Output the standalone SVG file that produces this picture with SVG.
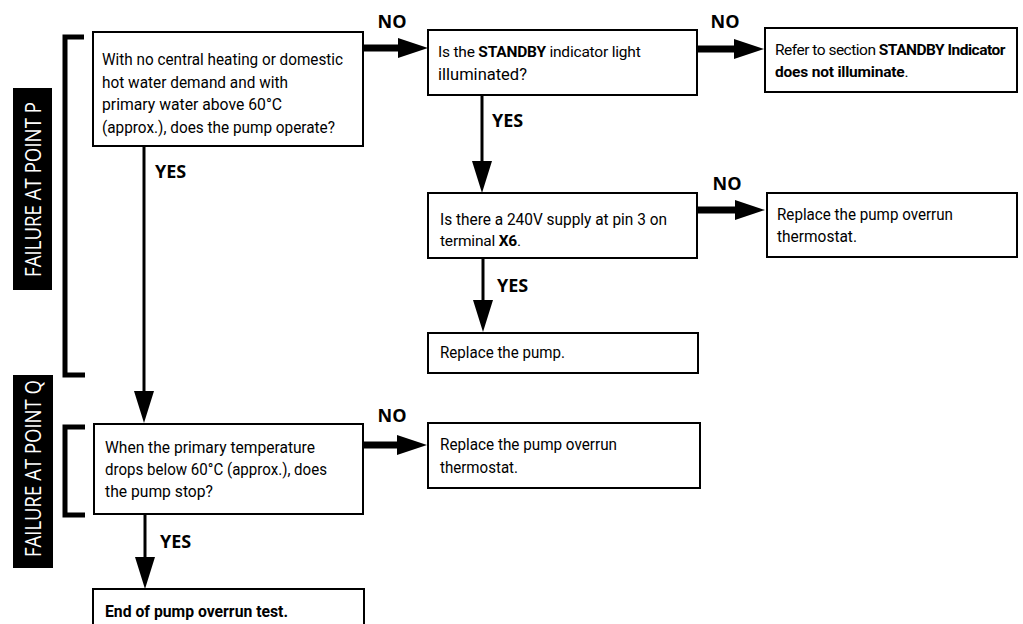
<svg xmlns="http://www.w3.org/2000/svg" width="1023" height="624" viewBox="0 0 1023 624">
<style>
.bg{fill:#fff}
.box{fill:#fff;stroke:#000;stroke-width:2}
.t{font-family:Roboto,"Open Sans",sans-serif;font-size:16.5px;fill:#000}
.m{font-size:15.5px;letter-spacing:-0.2px}
.m2{letter-spacing:-0.5px}
.b{font-weight:bold}
.lbl{font-family:"Open Sans","Noto Sans",sans-serif;font-size:18px;font-weight:bold;fill:#000}
.side{fill:#000}
.sidet{font-family:"Open Sans","Noto Sans",sans-serif;font-size:21px;fill:#fff}
.brk{fill:none;stroke:#000;stroke-width:5}
.h{fill:none;stroke:#000;stroke-width:7;marker-end:url(#ah)}
.v{fill:none;stroke:#000;stroke-width:3;marker-end:url(#av)}
</style>
<defs>
<marker id="ah" viewBox="0 0 30 20" refX="8" refY="10" markerWidth="30" markerHeight="20" markerUnits="userSpaceOnUse" orient="auto"><path d="M0,0 L30,10 L0,20 z" fill="#000"/></marker>
<marker id="av" viewBox="0 0 32 20" refX="4" refY="10" markerWidth="32" markerHeight="20" markerUnits="userSpaceOnUse" orient="auto"><path d="M0,0 L32,10 L0,20 z" fill="#000"/></marker>
</defs>
<rect class="bg" x="0" y="0" width="1023" height="624"/>

<g id="labelP">
<rect class="side" x="13" y="88" width="39" height="202"/>
<text class="sidet" transform="translate(41,189.5) rotate(-90)" text-anchor="middle" textLength="175" lengthAdjust="spacingAndGlyphs">FAILURE AT POINT P</text>
<path class="brk" d="M84,37 H65 V375 H85"/>
</g>
<g id="labelQ">
<rect class="side" x="13" y="375" width="40" height="193"/>
<text class="sidet" transform="translate(41,468.5) rotate(-90)" text-anchor="middle" textLength="177" lengthAdjust="spacingAndGlyphs">FAILURE AT POINT Q</text>
<path class="brk" d="M85,427 H65 V515 H85"/>
</g>

<g id="connectors">
<path class="h" d="M363,48 H406"/>
<path class="h" d="M697,49 H742"/>
<path class="h" d="M697,210 H743"/>
<path class="h" d="M363,445 H405"/>
<path class="v" d="M144,146 V395"/>
<path class="v" d="M482,95 V165"/>
<path class="v" d="M483,258 V304"/>
<path class="v" d="M145,514 V561"/>
<text class="lbl" x="392" y="28" text-anchor="middle">NO</text>
<text class="lbl" x="725" y="28" text-anchor="middle">NO</text>
<text class="lbl" x="727" y="190" text-anchor="middle">NO</text>
<text class="lbl" x="392" y="422" text-anchor="middle">NO</text>
<text class="lbl" x="155" y="178">YES</text>
<text class="lbl" x="492" y="127">YES</text>
<text class="lbl" x="497" y="292">YES</text>
<text class="lbl" x="160" y="548">YES</text>
</g>

<g id="q1">
<rect class="box" x="93" y="32" width="270" height="114"/>
<text class="t" x="102" y="65" textLength="241" lengthAdjust="spacingAndGlyphs">With no central heating or domestic</text>
<text class="t" x="102" y="88" textLength="186" lengthAdjust="spacingAndGlyphs">hot water demand and with</text>
<text class="t" x="102" y="110" textLength="180" lengthAdjust="spacingAndGlyphs">primary water above 60°C</text>
<text class="t" x="102" y="133" textLength="233" lengthAdjust="spacingAndGlyphs">(approx.), does the pump operate?</text>
</g>

<g id="q2">
<rect class="box" x="428" y="30" width="269" height="65"/>
<text class="t m" x="438" y="57">Is the <tspan class="b">STANDBY</tspan> indicator light</text>
<text class="t" x="438" y="80" textLength="89" lengthAdjust="spacingAndGlyphs">illuminated?</text>
</g>

<g id="r1">
<rect class="box" x="765" y="28" width="252" height="64"/>
<text class="t m m2" x="775" y="55">Refer to section <tspan class="b">STANDBY Indicator</tspan></text>
<text class="t m" x="775" y="77"><tspan class="b">does not illuminate</tspan>.</text>
</g>

<g id="q3">
<rect class="box" x="428" y="193" width="269" height="65"/>
<text class="t" x="440" y="225" textLength="227" lengthAdjust="spacingAndGlyphs">Is there a 240V supply at pin 3 on</text>
<text class="t m" x="440" y="246">terminal <tspan class="b">X6</tspan>.</text>
</g>

<g id="r2">
<rect class="box" x="767" y="193" width="250" height="64"/>
<text class="t" x="777" y="220" textLength="176" lengthAdjust="spacingAndGlyphs">Replace the pump overrun</text>
<text class="t" x="777" y="242" textLength="80" lengthAdjust="spacingAndGlyphs">thermostat.</text>
</g>

<g id="r3">
<rect class="box" x="428" y="333" width="270" height="40"/>
<text class="t" x="440" y="358" textLength="125" lengthAdjust="spacingAndGlyphs">Replace the pump.</text>
</g>

<g id="q4">
<rect class="box" x="94" y="424" width="269" height="90"/>
<text class="t" x="105" y="453" textLength="210" lengthAdjust="spacingAndGlyphs">When the primary temperature</text>
<text class="t" x="105" y="475" textLength="222" lengthAdjust="spacingAndGlyphs">drops below 60°C (approx.), does</text>
<text class="t" x="105" y="497" textLength="108" lengthAdjust="spacingAndGlyphs">the pump stop?</text>
</g>

<g id="r4">
<rect class="box" x="428" y="423" width="272" height="65"/>
<text class="t" x="440" y="450" textLength="177" lengthAdjust="spacingAndGlyphs">Replace the pump overrun</text>
<text class="t" x="440" y="473" textLength="78" lengthAdjust="spacingAndGlyphs">thermostat.</text>
</g>

<g id="end">
<rect class="box" x="93" y="589" width="271" height="45"/>
<text class="t b" x="105" y="617" textLength="183" lengthAdjust="spacingAndGlyphs">End of pump overrun test.</text>
</g>
</svg>
